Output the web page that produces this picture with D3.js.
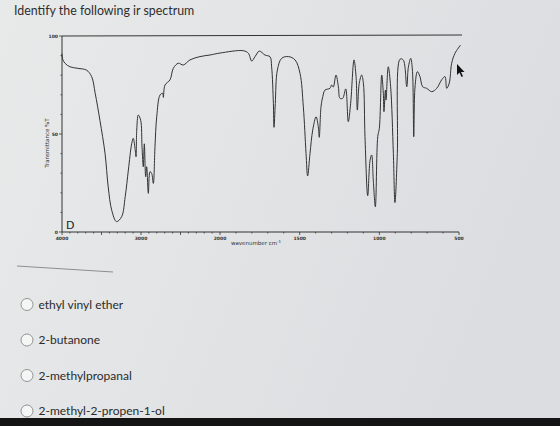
<!DOCTYPE html>
<html>
<head>
<meta charset="utf-8">
<script src="https://cdn.jsdelivr.net/npm/d3@7"></script>
<style>
  html, body { margin: 0; padding: 0; }
  body { width: 560px; height: 426px; overflow: hidden; }
</style>
</head>
<body>
<svg id="chart" width="560" height="426"></svg>
<script>
// spectrum values (wavenumber cm-1, %T)
const wavenumbers = [4000, 3990, 3960, 3900, 3800, 3690, 3625, 3580, 3520, 3455, 3415, 3370, 3310, 3245, 3200, 3160, 3118, 3098, 3076, 3063, 3054, 3034, 3004, 2987, 2971, 2958, 2941, 2928, 2907, 2886, 2865, 2844, 2823, 2801, 2759, 2725, 2717, 2696, 2633, 2591, 2528, 2465, 2380, 2253, 2127, 2000, 1854, 1822, 1801, 1780, 1753, 1718, 1686, 1676, 1665, 1661, 1653, 1640, 1613, 1571, 1529, 1498, 1477, 1460, 1450, 1435, 1418, 1397, 1383, 1377, 1366, 1355, 1341, 1310, 1299, 1289, 1272, 1257, 1247, 1230, 1211, 1195, 1180, 1159, 1146, 1138, 1126, 1111, 1100, 1090, 1073, 1058, 1048, 1038, 1025, 1010, 1000, 985, 975, 971, 962, 958, 944, 929, 912, 902, 887, 870, 850, 828, 818, 803, 792, 784, 776, 761, 745, 728, 703, 671, 640, 609, 588, 577, 561, 546, 525, 490];
const transmittance = [91, 88, 86, 84.3, 83.5, 82.6, 79.3, 70.8, 57, 40, 23, 11, 5.3, 7.8, 18, 31.6, 45, 47.8, 42.7, 38.4, 52, 59.7, 57, 43.5, 33.3, 45, 28.2, 33.3, 19.7, 30.8, 29.9, 24.8, 43.5, 58.8, 69.9, 70.8, 68.7, 75, 77.6, 83.5, 86.1, 85.2, 87.8, 89.5, 90.3, 91.3, 92.5, 91.2, 87.2, 89.5, 92.3, 90.3, 89.4, 84.3, 65.6, 53.4, 65.6, 82.6, 88.6, 89.5, 87.8, 81, 63.9, 40.1, 28.6, 40.1, 52, 58.8, 53.7, 48.3, 63.9, 69, 72.4, 73.3, 75, 74, 80.1, 74.1, 68.2, 68.2, 73, 56.3, 65.7, 87.8, 79.3, 62.2, 75.9, 80.1, 75.9, 48.6, 18.5, 36.7, 39.3, 26.5, 12.9, 48.6, 52.9, 80.1, 70.8, 61.4, 72.4, 67.3, 84.3, 74.1, 40.1, 15, 40, 88.2, 87.8, 74.1, 84, 88.6, 82, 48.6, 74, 81.8, 79.3, 74.1, 73.3, 71.6, 73.3, 77.6, 79.3, 73.3, 76, 86.1, 91.2, 95.4];

const xTickLabels = [4000, 3000, 2000, 1500, 1000, 500];
const yTickLabels = [0, 50, 100];
const answerOptions = ['ethyl vinyl ether', '2-butanone', '2-methylpropanal', '2-methyl-2-propen-1-ol'];

const svg = d3.select('#chart');

// photo background
const defs = svg.append('defs');
const grad = defs.append('linearGradient').attr('id', 'bg').attr('x1', 0).attr('x2', 1).attr('y1', 0).attr('y2', 0.3);
grad.append('stop').attr('offset', 0).attr('stop-color', '#e8eaea');
grad.append('stop').attr('offset', 1).attr('stop-color', '#dcdde0');
svg.append('rect').attr('width', 560).attr('height', 426).attr('fill', 'url(#bg)');

svg.append('text')
    .attr('x', 14).attr('y', 15)
    .style('font-family', 'Lato, sans-serif')
    .style('font-size', '12.4px')
    .attr('fill', '#2e2e2e')
    .text('Identify the following ir spectrum');

// split wavenumber scale (2000 cm-1 break)
const x = d3.scaleLinear()
    .domain([4000, 2000, 500])
    .range([62, 220, 459]);

const y = d3.scaleLinear()
    .domain([0, 100])
    .range([232, 36]);

const plot = svg.append('g');
const ink = '#333';

// frame: top line at 100 %T
plot.append('line')
    .attr('x1', x(4000)).attr('x2', 462)
    .attr('y1', y(100)).attr('y2', y(100) - 1)
    .attr('stroke', ink).attr('stroke-width', 1);

// x axis
const minorX = d3.range(4000, 499, -100);
const xAxis = plot.append('g').attr('transform', `translate(0,${y(0)})`);
xAxis.append('line')
    .attr('x1', x(4000)).attr('x2', x(500))
    .attr('stroke', ink);
xAxis.selectAll('.xt').data(minorX).enter().append('line')
    .attr('x1', d => x(d)).attr('x2', d => x(d))
    .attr('y1', 0).attr('y2', d => d % 500 === 0 ? 3 : 1.5)
    .attr('stroke', ink).attr('stroke-width', 0.8);
xAxis.selectAll('.xl').data(xTickLabels).enter().append('text')
    .attr('x', d => x(d)).attr('y', 8)
    .attr('text-anchor', 'middle')
    .style('font-family', 'DejaVu Sans, sans-serif')
    .style('font-size', '4.5px').style('font-weight', 'bold')
    .attr('fill', ink)
    .text(d => d);
const xTitle = svg.append('text')
    .attr('x', 256).attr('y', 245)
    .attr('text-anchor', 'middle')
    .style('font-family', 'DejaVu Sans, sans-serif')
    .style('font-size', '5.5px')
    .attr('fill', ink)
    .text('wavenumber cm');
xTitle.append('tspan').attr('dy', -2).style('font-size', '4px').text('-1');

// y axis
const yAxis = plot.append('g').attr('transform', `translate(${x(4000)},0)`);
yAxis.append('line')
    .attr('y1', y(0)).attr('y2', y(100))
    .attr('stroke', ink);
yAxis.selectAll('.yt').data(d3.range(0, 101, 10)).enter().append('line')
    .attr('x1', d => d % 50 === 0 ? -3 : -1.5).attr('x2', 0)
    .attr('y1', d => y(d)).attr('y2', d => y(d))
    .attr('stroke', ink).attr('stroke-width', 0.8);
yAxis.selectAll('.yl').data(yTickLabels).enter().append('text')
    .attr('x', -4).attr('y', d => y(d) + 1.5)
    .attr('text-anchor', 'end')
    .style('font-family', 'DejaVu Sans, sans-serif')
    .style('font-size', '4.5px').style('font-weight', 'bold')
    .attr('fill', ink)
    .text(d => d);
svg.append('text')
    .attr('transform', 'translate(49,143) rotate(-90)')
    .attr('text-anchor', 'middle')
    .style('font-family', 'DejaVu Sans, sans-serif')
    .style('font-size', '5.5px')
    .attr('fill', ink)
    .text('Transmittance %T');

// panel letter
svg.append('text')
    .attr('x', 66).attr('y', 229)
    .style('font-family', 'DejaVu Sans, sans-serif')
    .style('font-size', '11px')
    .attr('fill', '#222')
    .text('D');

// spectrum
const pts = wavenumbers.map((w, i) => [w, transmittance[i]]);
const line = d3.line()
    .x(d => x(d[0]))
    .y(d => y(d[1]))
    .curve(d3.curveCatmullRom.alpha(0.5));
plot.append('path')
    .datum(pts)
    .attr('d', line)
    .attr('fill', 'none')
    .attr('stroke', '#333')
    .attr('stroke-width', 1)
    .attr('stroke-linejoin', 'round');

// mouse pointer in the photo
svg.append('path')
    .attr('d', 'M457,64 L457,75 L459.5,72.5 L461.5,77 L463,76.3 L461,72 L464.5,72 Z')
    .attr('fill', '#111');

// separator
svg.append('line')
    .attr('x1', 17).attr('y1', 266).attr('x2', 113).attr('y2', 272)
    .attr('stroke', '#777').attr('stroke-width', 0.8);

// answer choices
const optY = d3.scaleLinear().domain([0, 3]).range([304.5, 411]);
const opts = svg.selectAll('.opt').data(answerOptions).enter().append('g')
    .attr('transform', (d, i) => `translate(0,${optY(i)})`);
opts.append('circle')
    .attr('cx', 27).attr('cy', 0).attr('r', 6)
    .attr('fill', '#f4f5f5').attr('stroke', '#8a8a8a').attr('stroke-width', 0.9);
opts.append('text')
    .attr('x', 38.5).attr('y', 4)
    .style('font-family', 'Lato, sans-serif')
    .style('font-size', '12px')
    .attr('fill', '#2b2b2b')
    .text(d => d);

// dark bezel at the bottom of the photo
svg.append('rect').attr('x', 0).attr('y', 418).attr('width', 560).attr('height', 8).attr('fill', '#141414');
</script>
</body>
</html>
